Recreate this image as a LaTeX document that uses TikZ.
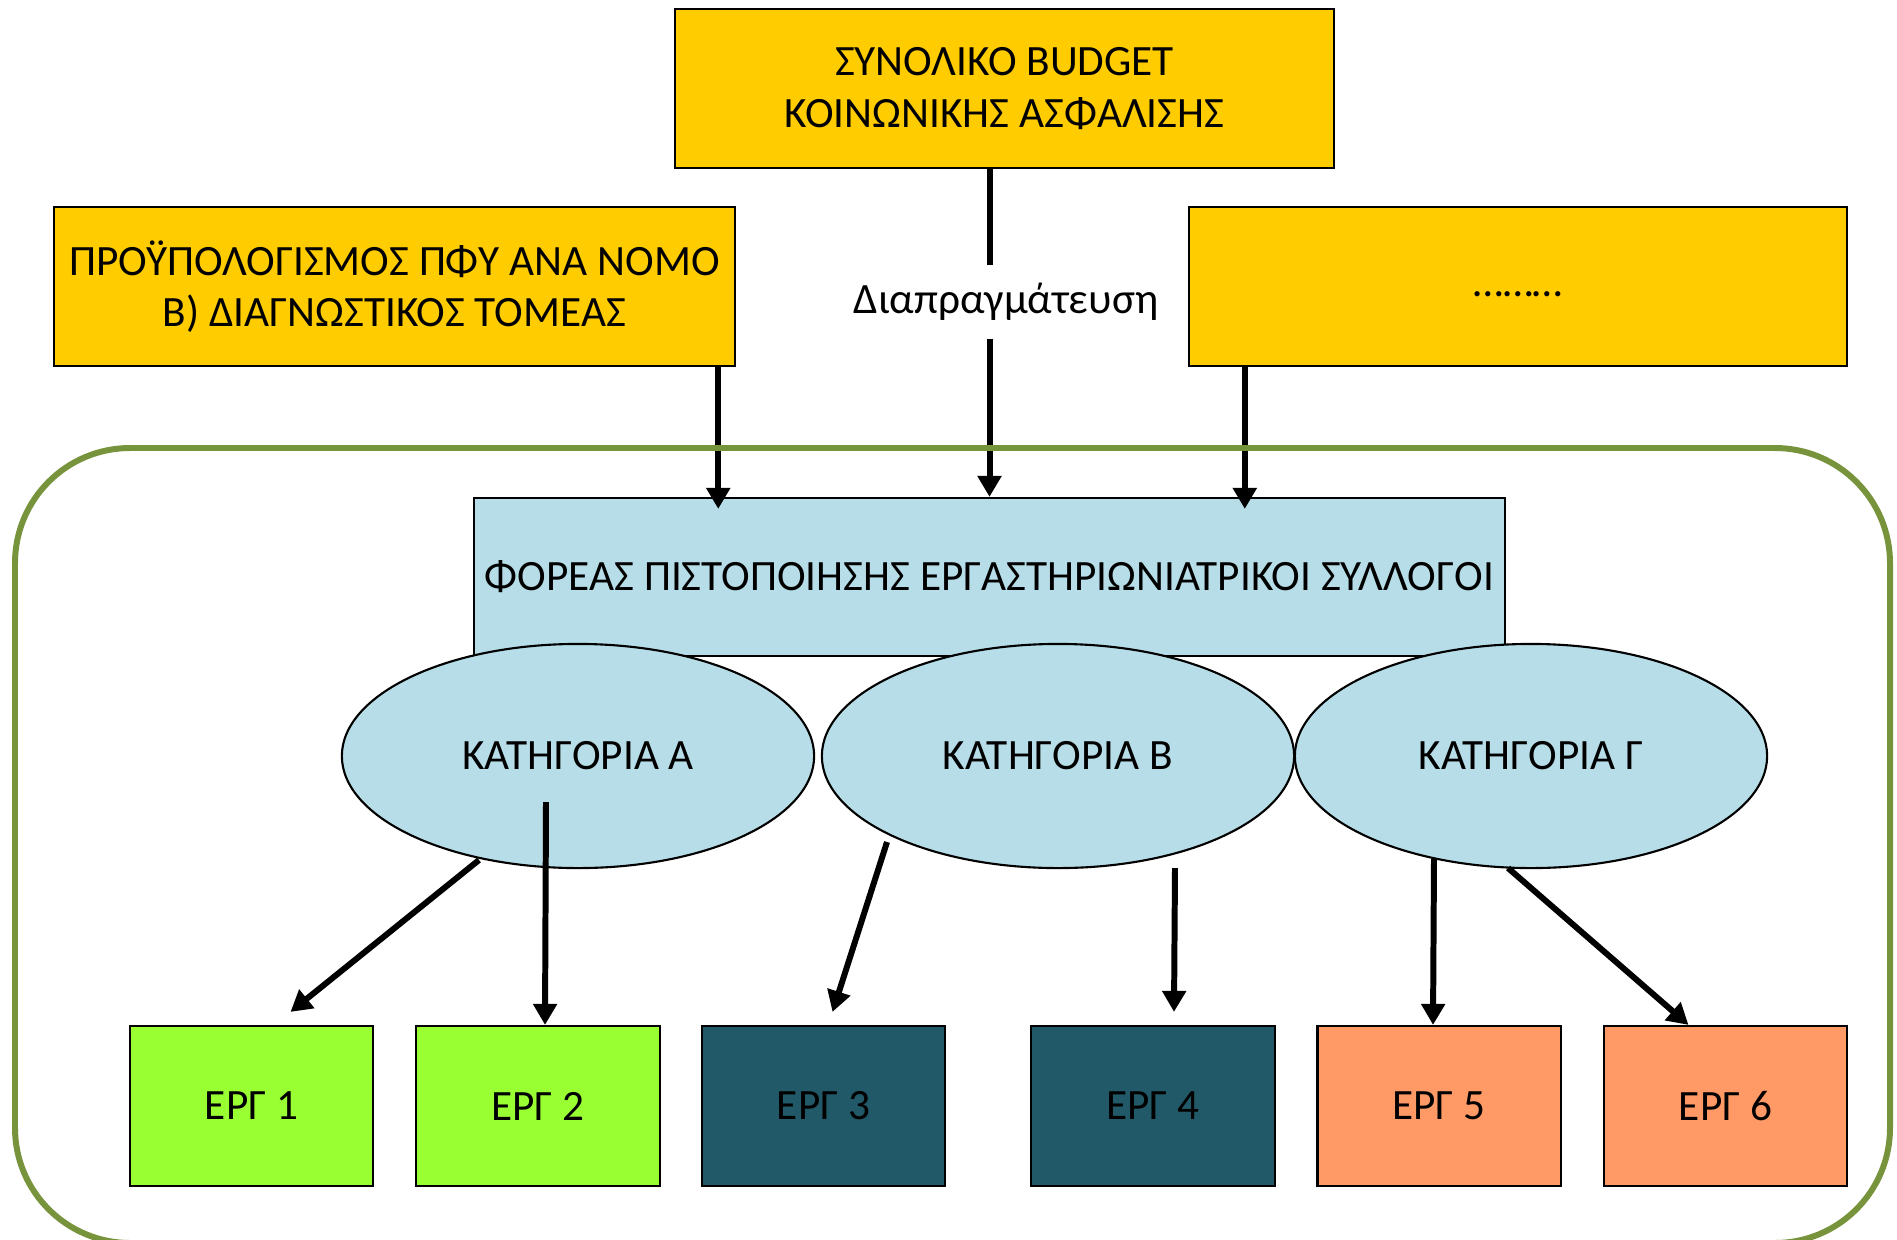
\documentclass[tikz,border=0pt]{standalone}
\usepackage{fontspec}
\setmainfont{Carlito}
\usetikzlibrary{shapes.geometric,arrows.meta}
\definecolor{kitrino}{HTML}{FFCC00}
\definecolor{galazio}{HTML}{B7DEE8}
\definecolor{prasino}{HTML}{99FF33}
\definecolor{petroli}{HTML}{215968}
\definecolor{portokali}{HTML}{FF9966}
\definecolor{ladi}{HTML}{77933C}
\begin{document}
\begin{tikzpicture}%
[x=0.01cm,y=-0.01cm,
every node/.style={rectangle,draw=black,line width=0.6pt,inner sep=0pt,
align=center,font=\fontsize{12.3}{14.6}\selectfont},
kouti/.style={fill=kitrino,minimum height=1.59cm},
erg/.style={minimum width=2.43cm,minimum height=1.6cm},
kat/.style={ellipse,fill=galazio,minimum width=4.72cm,minimum height=2.24cm},
velos/.style={line width=1.7pt,-{Triangle[width=0.23cm,length=0.21cm]}}]
\path[use as bounding box,clip] (0,0) rectangle (1897,1239);
\node (budget) at (1004.5,88.5) [kouti, minimum width=6.59cm]
{ΣΥΝΟΛΙΚΟ BUDGET\\ΚΟΙΝΩΝΙΚΗΣ ΑΣΦΑΛΙΣΗΣ};
\node (proypologismos) at (394.5,286.5) [kouti, minimum width=6.81cm]
{ΠΡΟΫΠΟΛΟΓΙΣΜΟΣ ΠΦΥ ΑΝΑ ΝΟΜΟ\\Β) ΔΙΑΓΝΩΣΤΙΚΟΣ ΤΟΜΕΑΣ};
\node (allos) at (1518,286.5) [kouti, minimum width=6.58cm] {\strut………};
\node (foreas) at (989.5,577) [fill=galazio, minimum width=10.31cm,
minimum height=1.58cm] {ΦΟΡΕΑΣ ΠΙΣΤΟΠΟΙΗΣΗΣ ΕΡΓΑΣΤΗΡΙΩΝΙΑΤΡΙΚΟΙ ΣΥΛΛΟΓΟΙ};
\node (diapr) at (1006,302) [draw=none, minimum height=0.71cm] {Διαπραγμάτευση};
\node (katA) at (578,756) [kat] {ΚΑΤΗΓΟΡΙΑ Α};
\node (katB) at (1058,756) [kat] {ΚΑΤΗΓΟΡΙΑ Β};
\node (katG) at (1531,756) [kat] {ΚΑΤΗΓΟΡΙΑ Γ};
\node (erg1) at (251.5,1106) [erg, fill=prasino] {ΕΡΓ 1};
\node (erg2) at (538,1106) [erg, fill=prasino] {ΕΡΓ 2};
\node (erg3) at (823.5,1106) [erg, fill=petroli] {ΕΡΓ 3};
\node (erg4) at (1153,1106) [erg, fill=petroli] {ΕΡΓ 4};
\node (erg5) at (1439,1106) [erg, fill=portokali] {ΕΡΓ 5};
\node (erg6) at (1725.5,1106) [erg, fill=portokali] {ΕΡΓ 6};
\draw [line width=1.7pt] (budget.south -| foreas.north) -- (diapr.north -| foreas.north);
\draw [velos] (diapr.south -| foreas.north) -- (foreas.north);
\draw [velos] ([xshift=-0.18cm]proypologismos.south east) --
([xshift=-0.18cm,yshift=-0.12cm]proypologismos.south east |- foreas.north);
\draw [velos] ([xshift=0.57cm]allos.south west) --
([xshift=0.57cm,yshift=-0.12cm]allos.south west |- foreas.north);
\draw [velos] ([shift={(-99,104)}]katA.center) -- ([shift={(39,-13)}]erg1.north);
\draw [velos] ([shift={(-32,46)}]katA.center) -- ([shift={(7,0)}]erg2.north);
\draw [velos] ([shift={(-171,86)}]katB.center) -- ([shift={(9,-13)}]erg3.north);
\draw [velos] ([shift={(117,112)}]katB.center) -- ([shift={(21,-13)}]erg4.north);
\draw [velos] ([shift={(-97,103)}]katG.center) -- ([shift={(-6,0)}]erg5.north);
\draw [velos] ([shift={(-23,112)}]katG.center) -- ([shift={(-37,0)}]erg6.north);
\draw [ladi, line width=1.7pt, rounded corners=1.15cm] (15,448) rectangle (1890,1243);
\end{tikzpicture}
\end{document}
